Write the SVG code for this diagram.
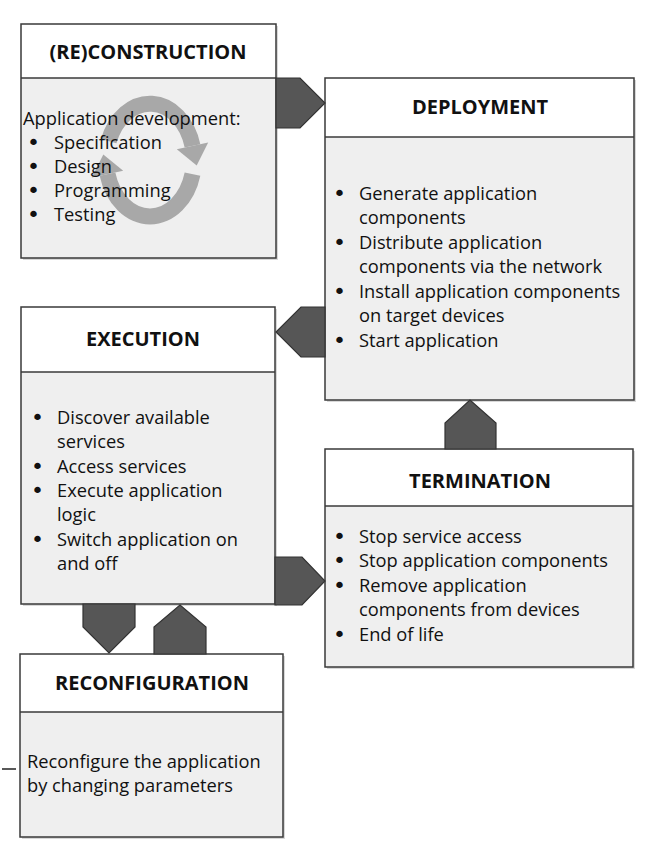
<svg xmlns="http://www.w3.org/2000/svg" width="653" height="861" viewBox="0 0 653 861">
<defs>
<style>
.hdr{fill:#ffffff;stroke:none}
.body{fill:#efefef;stroke:none}
.frame{fill:none;stroke:#3a3a3a;stroke-width:1.5}
.sep{stroke:#3a3a3a;stroke-width:1.5}
.shadow{fill:#d8d8d8}
.title{font-family:"Open Sans",Lato,sans-serif;font-weight:bold;font-size:20px;fill:#111;text-anchor:middle}
.t{font-family:"Open Sans",Lato,sans-serif;font-size:18.3px;fill:#111}
.b{font-family:"DejaVu Sans",sans-serif;font-size:22px;fill:#111}
.conn{fill:#565656;stroke:#333;stroke-width:1.2;stroke-linejoin:miter}
.cyc{fill:none;stroke:#a8a8a8;stroke-width:16}
.cyca{fill:#a8a8a8}
</style>
</defs>
<rect width="653" height="861" fill="#ffffff"/>

<g id="reconstruction">
<rect class="shadow" x="23" y="26" width="255" height="234"/>
<rect class="body" x="21" y="24" width="255" height="234"/>
<rect class="hdr" x="21" y="24" width="255" height="54"/>
<path class="cyc" d="M108.7,141.2 A44,57 0 0 1 192.5,145.8"/>
<polygon class="cyca" points="208.2,142.4 176.8,149.2 196.7,165.4"/>
<path class="cyc" d="M192.5,174.2 A44,57 0 0 1 107.5,174.2"/>
<polygon class="cyca" points="91.8,177.6 123.2,170.8 103.3,154.6"/>
<line class="sep" x1="21" y1="78" x2="276" y2="78"/>
<rect class="frame" x="21" y="24" width="255" height="234"/>
<text class="title" x="148" y="59">(RE)CONSTRUCTION</text>
<text class="t" x="23" y="125">Application development:</text>
<text class="b" x="27" y="150">•</text><text class="t" x="54" y="149">Specification</text>
<text class="b" x="27" y="174">•</text><text class="t" x="54" y="173">Design</text>
<text class="b" x="27" y="198">•</text><text class="t" x="54" y="197">Programming</text>
<text class="b" x="27" y="222">•</text><text class="t" x="54" y="221">Testing</text>
</g>

<g id="deployment">
<rect class="shadow" x="327" y="80" width="309" height="322"/>
<rect class="body" x="325" y="78" width="309" height="322"/>
<rect class="hdr" x="325" y="78" width="309" height="59"/>
<line class="sep" x1="325" y1="137" x2="634" y2="137"/>
<rect class="frame" x="325" y="78" width="309" height="322"/>
<text class="title" x="480" y="114">DEPLOYMENT</text>
<text class="b" x="333" y="201">•</text><text class="t" x="359" y="200">Generate application</text>
<text class="t" x="359" y="224">components</text>
<text class="b" x="333" y="250">•</text><text class="t" x="359" y="249">Distribute application</text>
<text class="t" x="359" y="273">components via the network</text>
<text class="b" x="333" y="299">•</text><text class="t" x="359" y="298">Install application components</text>
<text class="t" x="359" y="322">on target devices</text>
<text class="b" x="333" y="348">•</text><text class="t" x="359" y="347">Start application</text>
</g>

<g id="execution">
<rect class="shadow" x="23" y="309" width="254" height="297"/>
<rect class="body" x="21" y="307" width="254" height="297"/>
<rect class="hdr" x="21" y="307" width="254" height="65"/>
<line class="sep" x1="21" y1="372" x2="275" y2="372"/>
<rect class="frame" x="21" y="307" width="254" height="297"/>
<text class="title" x="143" y="346">EXECUTION</text>
<text class="b" x="31" y="425">•</text><text class="t" x="57" y="424">Discover available</text>
<text class="t" x="57" y="448">services</text>
<text class="b" x="31" y="474">•</text><text class="t" x="57" y="473">Access services</text>
<text class="b" x="31" y="498">•</text><text class="t" x="57" y="497">Execute application</text>
<text class="t" x="57" y="521">logic</text>
<text class="b" x="31" y="547">•</text><text class="t" x="57" y="546">Switch application on</text>
<text class="t" x="57" y="570">and off</text>
</g>

<g id="termination">
<rect class="shadow" x="327" y="451" width="308" height="218"/>
<rect class="body" x="325" y="449" width="308" height="218"/>
<rect class="hdr" x="325" y="449" width="308" height="57"/>
<line class="sep" x1="325" y1="506" x2="633" y2="506"/>
<rect class="frame" x="325" y="449" width="308" height="218"/>
<text class="title" x="480" y="488">TERMINATION</text>
<text class="b" x="333" y="544">•</text><text class="t" x="359" y="543">Stop service access</text>
<text class="b" x="333" y="568">•</text><text class="t" x="359" y="567">Stop application components</text>
<text class="b" x="333" y="593">•</text><text class="t" x="359" y="592">Remove application</text>
<text class="t" x="359" y="616">components from devices</text>
<text class="b" x="333" y="642">•</text><text class="t" x="359" y="641">End of life</text>
</g>

<g id="reconfiguration">
<rect class="shadow" x="22" y="656" width="263" height="183"/>
<rect class="body" x="20" y="654" width="263" height="183"/>
<rect class="hdr" x="20" y="654" width="263" height="58"/>
<line class="sep" x1="20" y1="712" x2="283" y2="712"/>
<rect class="frame" x="20" y="654" width="263" height="183"/>
<text class="title" x="152" y="690">RECONFIGURATION</text>
<text class="t" x="27" y="768">Reconfigure the application</text>
<text class="t" x="27" y="792">by changing parameters</text>
</g>

<g id="connectors">
<polygon class="conn" points="276,78 300,78 325,103 300,128 276,128"/>
<polygon class="conn" points="325,307 301,307 276,332 301,357 325,357"/>
<polygon class="conn" points="275,557 302,557 325,581 302,605 275,605"/>
<polygon class="conn" points="445,449 445,423 470,400 496,423 496,449"/>
<polygon class="conn" points="83,604 135,604 135,627 109,653 83,627"/>
<polygon class="conn" points="154,654 154,627 180,605 206,627 206,654"/>
</g>

<line x1="2" y1="769" x2="16" y2="769" stroke="#222" stroke-width="1.5"/>
</svg>
